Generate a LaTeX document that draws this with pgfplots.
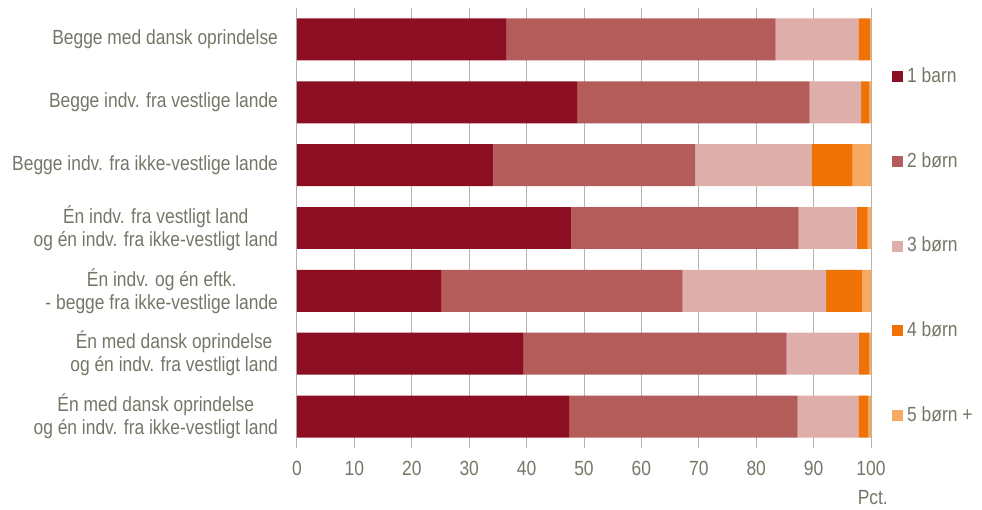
\documentclass[border=0pt]{standalone}
\usepackage{fontspec}
\setmainfont{Liberation Sans}[FakeStretch=0.85]
\usepackage{pgfplots}
\usepackage{pgfplotstable}
\pgfplotsset{compat=1.18}
\definecolor{txt}{RGB}{118,118,104}
\definecolor{gridc}{RGB}{180,180,170}
\definecolor{c1}{RGB}{139,14,34}
\definecolor{c2}{RGB}{179,92,90}
\definecolor{c3}{RGB}{222,174,171}
\definecolor{c4}{RGB}{238,114,6}
\definecolor{c5}{RGB}{245,169,98}
\pgfplotstableread{
y b1 b2 b3 b4 b5
0 36.5 46.9 14.4 2.0 0.2
1 48.8 40.5 9.0 1.4 0.3
2 34.2 35.2 20.2 7.2 3.2
3 47.8 39.6 10.1 1.9 0.6
4 25.1 42.1 25.0 6.3 1.5
5 39.5 45.8 12.6 1.8 0.3
6 47.4 39.8 10.6 1.7 0.5
}\data
\begin{document}
\fontsize{20.5}{23}\selectfont
\begin{tikzpicture}
\path[use as bounding box] (-297pt,-62pt) rectangle (685pt,448pt);
\begin{axis}[
  scale only axis,
  width=574pt, height=440pt,
  clip=false,
  xbar stacked,
  bar width=0.668,
  xmin=0, xmax=100,
  ymin=-0.5, ymax=6.5,
  y dir=reverse,
  xtick={0,10,...,100},
  ytick={0,...,6},
  yticklabels={{Begge med dansk oprindelse},{Begge indv. fra vestlige lande},{Begge indv. fra ikke-vestlige lande},{Én indv. fra vestligt land\\og én indv. fra ikke-vestligt land},{Én indv. og én eftk.\\- begge fra ikke-vestlige lande},{Én med dansk oprindelse\\og én indv. fra vestligt land},{Én med dansk oprindelse\\og én indv. fra ikke-vestligt land}},
  /pgf/number format/assume math mode=true,
  axis line style={draw=none},
  major tick length=0pt,
  xmajorgrids,
  grid style={gridc, line width=1pt},
  tick label style={txt, font=\fontsize{20.5}{23}\selectfont},
  xticklabel style={yshift=-6pt},
  yticklabel style={align=center, xshift=-12pt},
  legend style={at={(1.0366,0.459)}, anchor=west, draw=none, fill=none, inner sep=0pt,
     font=\fontsize{20.5}{23}\selectfont, text=txt, row sep=63pt,
     nodes={inner sep=2pt}},
  legend cell align=left,
  legend image code/.code={\fill[#1] (0pt,-5.5pt) rectangle (11pt,5.5pt);},
]
\addplot[fill=c1, draw=none] table[x=b1, y=y] {\data};
\addplot[fill=c2, draw=none] table[x=b2, y=y] {\data};
\addplot[fill=c3, draw=none] table[x=b3, y=y] {\data};
\addplot[fill=c4, draw=none] table[x=b4, y=y] {\data};
\addplot[fill=c5, draw=none] table[x=b5, y=y] {\data};
\legend{\hspace{2pt}1 barn, \hspace{2pt}2 børn, \hspace{2pt}3 børn, \hspace{2pt}4 børn, \hspace{2pt}5 børn +}
\node[anchor=north east, text=txt, inner sep=0pt] at ([xshift=17pt, yshift=-42pt]rel axis cs:1,0) {Pct.};
\end{axis}
\end{tikzpicture}
\end{document}
